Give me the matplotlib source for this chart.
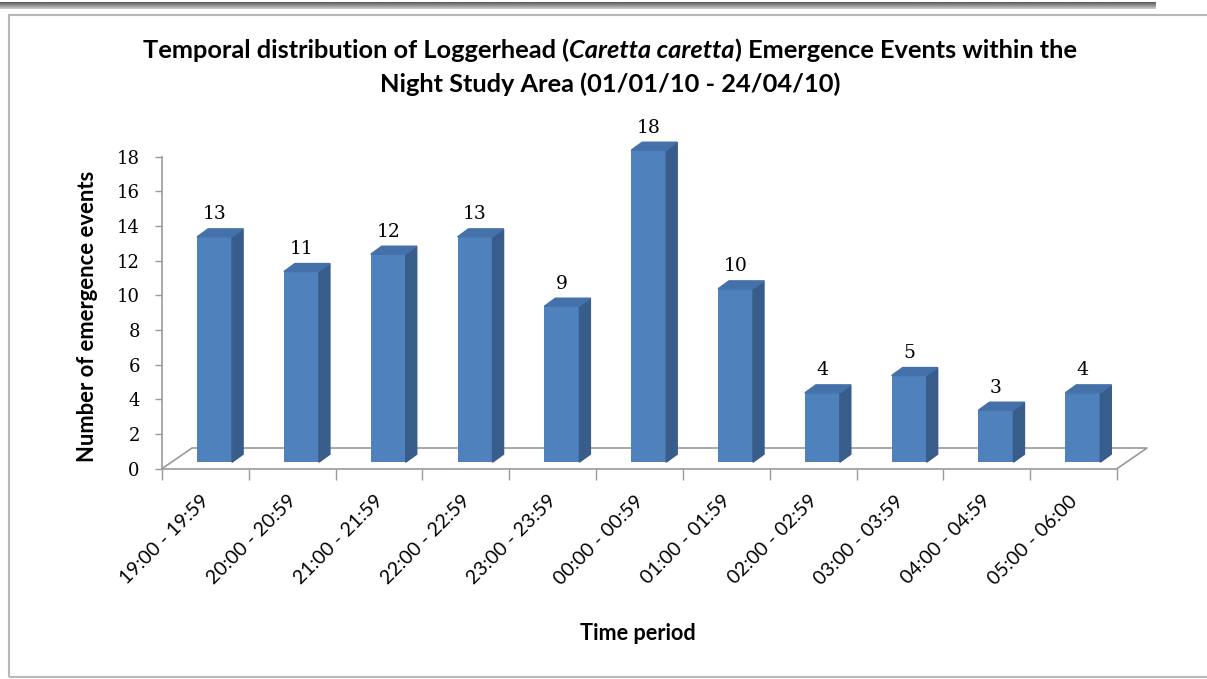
import numpy as np
import matplotlib.pyplot as plt
from matplotlib.patches import Rectangle
from matplotlib.transforms import ScaledTranslation

periods = ["19:00 - 19:59", "20:00 - 20:59", "21:00 - 21:59", "22:00 - 22:59",
           "23:00 - 23:59", "00:00 - 00:59", "01:00 - 01:59", "02:00 - 02:59",
           "03:00 - 03:59", "04:00 - 04:59", "05:00 - 06:00"]
events = [13, 11, 12, 13, 9, 18, 10, 4, 5, 3, 4]
yticks = list(range(0, 19, 2))

W, H = 1207, 679
front_col = "#4f81bd"
side_col = "#385d8a"
top_col = "#4471aa"
line_col = "#9a9a9a"

fig = plt.figure(figsize=(W / 100, H / 100), dpi=100)
fig.patch.set_facecolor("white")

# plot area, placed in pixels
left, right, y_zero, y_top = 162, 1117, 468.7, 156.7
ax = fig.add_axes([left / W, 1 - y_zero / H, (right - left) / W, (y_zero - y_top) / H])
n = len(periods)
ax.set_xlim(-0.5, n - 0.5)
ax.set_ylim(0, 18)
px_x = (right - left) / n
px_y = (y_zero - y_top) / 18


def dx(p):
    return p / px_x


def dy(p):
    return p / px_y


for s in ["top", "right"]:
    ax.spines[s].set_visible(False)
for s in ["left", "bottom"]:
    ax.spines[s].set_color(line_col)
    ax.spines[s].set_linewidth(1.2)

# 3d floor outline
fx, fy = dx(30), dy(20.7)
ax.plot([-0.5, -0.5 + fx, n - 0.5 + fx, n - 0.5], [0, fy, fy, 0],
        color=line_col, lw=1.2, clip_on=False, zorder=1)

# bars: front face + side + top
x = np.arange(n)
ox, oy = dx(9.2), dy(6.5)
bw = dx(35)
ddx, ddy = dx(11), dy(8)
ax.bar(x + ox, events, width=bw, bottom=oy, color=front_col, zorder=3, clip_on=False)
for xi, v in zip(x + ox, events):
    xl, xr = xi - bw / 2, xi + bw / 2
    top = oy + v
    ax.fill([xr, xr + ddx, xr + ddx, xr], [oy, oy + ddy, top + ddy, top],
            color=side_col, zorder=3, clip_on=False)
    ax.fill([xl, xl + ddx, xr + ddx, xr], [top, top + ddy, top + ddy, top],
            color=top_col, zorder=3, clip_on=False)
    ax.annotate(str(v), (xi, top + ddy), xytext=(0, 4), textcoords="offset points",
                ha="center", va="bottom", fontfamily="DejaVu Serif", fontsize=13.5,
                annotation_clip=False)

ax.set_yticks(yticks)
ax.tick_params(axis="y", length=5, width=1, color=line_col, pad=11, labelsize=13)
for lab in ax.get_yticklabels():
    lab.set_fontfamily("DejaVu Serif")

ax.set_xticks(x)
ax.set_xticks(np.arange(n + 1) - 0.5, minor=True)
ax.tick_params(axis="x", which="major", length=0, pad=17)
ax.tick_params(axis="x", which="minor", length=8, width=1, color=line_col)
ax.set_xticklabels(periods, rotation=45, ha="right", va="top", fontsize=14, fontfamily="Lato")
shift = ScaledTranslation(7 / 100, 0, fig.dpi_scale_trans)
for lab in ax.get_xticklabels():
    lab.set_transform(lab.get_transform() + shift)

# axis titles
fig.text(88 / W, 1 - 316 / H, "Number of emergence events", rotation=90, ha="center",
         va="center", fontsize=15.8, fontweight="bold", fontfamily="Lato")
fig.text(638 / W, 1 - 634 / H, "Time period", ha="center", va="center",
         fontsize=15.6, fontweight="bold", fontfamily="Lato")

# title, with the species name in italics
t_kw = dict(fontsize=18.3, fontweight="bold", fontfamily="Lato", va="center")
parts = [("Temporal distribution of Loggerhead (", "normal"),
         ("Caretta caretta", "italic"),
         (") Emergence Events within the", "normal")]
texts = [fig.text(0, 1 - 50 / H, s, style=st, **t_kw) for s, st in parts]
fig.text(610 / W, 1 - 84 / H, "Night Study Area (01/01/10 - 24/04/10)", ha="center", **t_kw)
fig.canvas.draw()
r = fig.canvas.get_renderer()
widths = [t.get_window_extent(r).width for t in texts]
xpos = 610 - sum(widths) / 2
for t, w in zip(texts, widths):
    t.set_x(xpos / W)
    xpos += w

# chart frame and the grey strip on top
fig.add_artist(Rectangle((9 / W, 1 - 677 / H), 1.2, (677 - 15) / H, transform=fig.transFigure,
                         fill=False, ec="#b8b8b8", lw=1.5))
hax = fig.add_axes([0, 1 - 9 / H, 1156 / W, 7 / H])
hax.imshow(np.linspace(0.35, 0.8, 20)[:, None] * np.ones((1, 2)), cmap="gray",
           vmin=0, vmax=1, aspect="auto")
hax.axis("off")

fig.savefig("out.png", dpi=100)
